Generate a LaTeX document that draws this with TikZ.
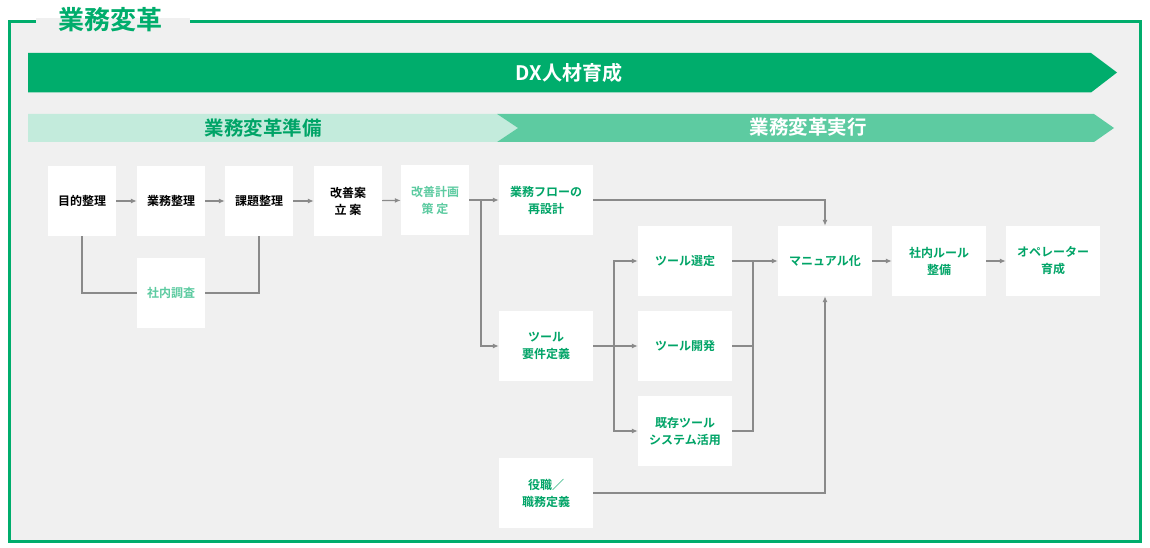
\documentclass[tikz,border=0pt]{standalone}
\usepackage{fontspec}
\setmainfont{Noto Sans CJK JP}[BoldFont={Noto Sans CJK JP Bold}]
\usetikzlibrary{arrows.meta}
\definecolor{gmain}{HTML}{00AD6C}
\definecolor{glight}{HTML}{C3EBDC}
\definecolor{gmid}{HTML}{5DCBA1}
\definecolor{gtext}{HTML}{00A467}
\definecolor{bgc}{HTML}{F0F0F0}
\definecolor{lncol}{HTML}{8A8A8A}
\tikzset{
  x=1pt, y=-1pt,
  box/.style={fill=white, minimum width=68pt, minimum height=70pt, inner sep=0pt, align=center, font=\bfseries\fontsize{12}{17}\selectfont},
  wbox/.style={box, minimum width=94pt},
  tblack/.style={text=black},
  tlight/.style={text=gmid},
  tgreen/.style={text=gtext},
  ln/.style={draw=lncol, line width=1.2pt},
  arr/.style={ln, -{Latex[length=6pt,width=5pt]}},
}
\begin{document}
\begin{tikzpicture}
\useasboundingbox (0,0) rectangle (1150,548);
\fill[white] (0,0) rectangle (1150,548);
% frame
\fill[bgc] (9.5,21.5) rectangle (1140.5,541);
\fill[bgc] (36,18) rectangle (190,22);
\draw[gmain, line width=3pt] (36,21.5) -- (9.5,21.5) -- (9.5,541) -- (1140.5,541) -- (1140.5,21.5) -- (190,21.5);
\node[text=gmain, font=\bfseries\fontsize{26}{26}\selectfont] (title) at (110,20) {業務変革};
% bands
\fill[gmain] (28,53) -- (1091,53) -- (1117,72.5) -- (1091,92.5) -- (28,92.5) -- cycle;
\node[text=white, font=\bfseries\fontsize{20}{20}\selectfont] (dx) at (569,72.5) {DX人材育成};
\fill[glight] (28,114) -- (497,114) -- (518,128) -- (497,142) -- (28,142) -- cycle;
\fill[gmid] (497,114) -- (1094,114) -- (1114,128) -- (1094,142) -- (497,142) -- (518,128) -- cycle;
\node[text=gtext, font=\bfseries\fontsize{19.5}{19.5}\selectfont] (prep) at (263,128) {業務変革準備};
\node[text=white, font=\bfseries\fontsize{19.5}{19.5}\selectfont] (exec) at (808,127) {業務変革実行};
% boxes
\node[box, tblack] (a1) at (82,201) {目的整理};
\node[box, tblack] (a2) at (171,201) {業務整理};
\node[box, tblack] (a3) at (259,201) {課題整理};
\node[box, tblack] (a4) at (348,201) {改善案\\立 案};
\node[box, tlight] (a5) at (435,200) {改善計画\\策 定};
\node[box, tlight] (a6) at (171,293) {社内調査};
\node[wbox, tgreen] (b1) at (546,200) {業務フローの\\再設計};
\node[wbox, tgreen] (b2) at (546,346) {ツール\\要件定義};
\node[wbox, tgreen] (b3) at (546,493) {役職／\\職務定義};
\node[wbox, tgreen] (c1) at (685,261) {ツール選定};
\node[wbox, tgreen] (c2) at (685,346) {ツール開発};
\node[wbox, tgreen] (c3) at (685,431) {既存ツール\\システム活用};
\node[wbox, tgreen] (d1) at (825,261) {マニュアル化};
\node[wbox, tgreen] (d2) at (939,261) {社内ルール\\整備};
\node[wbox, tgreen] (d3) at (1053,261) {オペレーター\\育成};
% connectors
\draw[arr] (a1) -- (a2);
\draw[arr] (a2) -- (a3);
\draw[arr] (a3) -- (a4);
\draw[arr] (a4) -- (a5);
\draw[ln] (a1.south) |- (a6.west);
\draw[ln] (a6.east) -| (a3.south);
\coordinate (j1) at (481,200);
\draw[ln] (a5.east) -- (j1);
\draw[arr] (j1) -- (b1.west);
\draw[arr] (j1) |- (b2.west);
\draw[arr] (b1.east) -| (d1.north);
\draw[arr] (b2) -- (c2);
\coordinate (j2) at (614,346);
\draw[arr] (j2) |- (c1.west);
\draw[arr] (j2) |- (c3.west);
\draw[arr] (c1) -- (d1);
\coordinate (j3) at (753,261);
\draw[ln] (c2.east) -| (j3);
\draw[ln] (c3.east) -| (j3);
\draw[arr] (b3.east) -| (d1.south);
\draw[arr] (d1) -- (d2);
\draw[arr] (d2) -- (d3);
\end{tikzpicture}
\end{document}
